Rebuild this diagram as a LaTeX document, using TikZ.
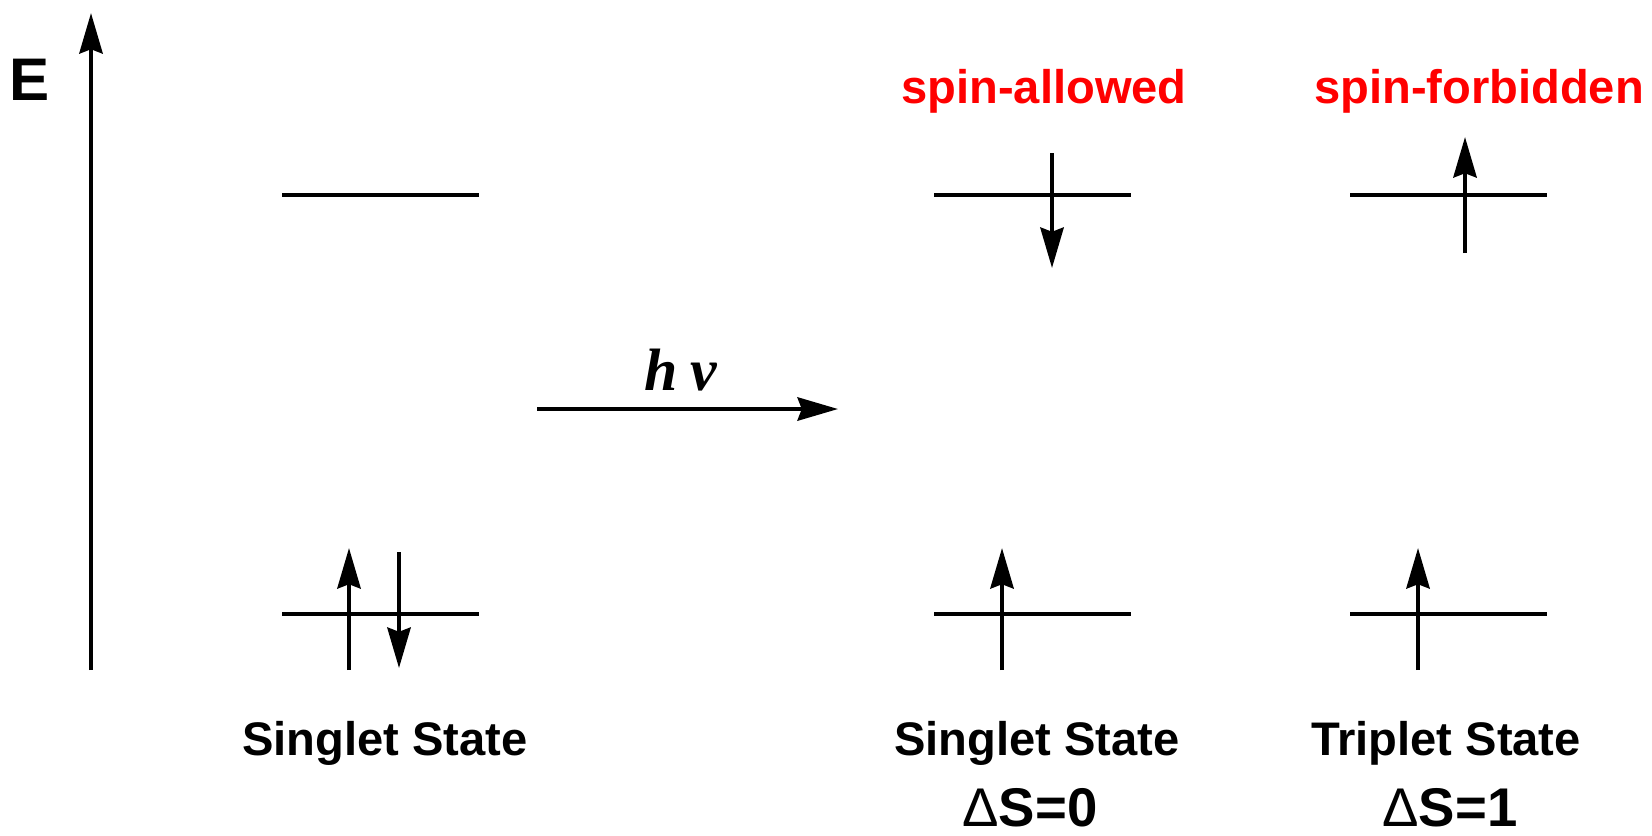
\documentclass[tikz,border=0pt]{standalone}
\usepackage{fontspec}
\setmainfont{Liberation Sans}
\newfontfamily\hvfont{Liberation Serif}
\usetikzlibrary{arrows.meta}
\definecolor{spinc}{RGB}{255,0,0}

\begin{document}
\begin{tikzpicture}[x=0.01cm,y=-0.01cm,>={Stealth[length=11.5pt,width=6.6pt,inset=1.2pt]},
  lvl/.style={line width=1.2pt},
  spin/.style={line width=1.2pt,->},
  lab/.style={font=\fontsize{13.4}{16}\selectfont\bfseries,anchor=base,inner sep=0pt},
  dlab/.style={font=\fontsize{15.5}{18}\selectfont\bfseries,anchor=base,inner sep=0pt,text depth=0pt}]
\useasboundingbox (0,0) rectangle (1652,835);
% energy axis
\coordinate (e0) at (91,670);
\coordinate (e1) at (91,13);
\draw[spin] (e0) -- (e1);
\node[font=\fontsize{17.1}{20}\selectfont\bfseries,anchor=base,inner sep=0pt] (elab) at (30,100) {E};
% orbital levels (upper and lower)
\foreach \x in {282,934,1350} {
  \draw[lvl] (\x,195) -- ++(197,0);
  \draw[lvl] (\x,614) -- ++(197,0);
}
% ground singlet: paired spins
\draw[spin] (349,670) -- (349,548);
\draw[spin] (399,552) -- (399,668);
% excited singlet
\draw[spin] (1002,670) -- (1002,548);
\draw[spin] (1052,153) -- (1052,268);
% triplet
\draw[spin] (1418,670) -- (1418,548);
\draw[spin] (1465,253) -- (1465,137);
% excitation
\coordinate (h0) at (537,409);
\coordinate (h1) at (838,409);
\draw[spin] (h0) -- (h1);
\node[font=\hvfont\fontsize{17}{20}\selectfont\bfseries\itshape,anchor=base,inner sep=0pt] (hv) at (681,390) {h\kern3.5pt ν};
% labels
\node[lab,spinc] (allowed) at (1044,103) {spin-allowed};
\node[lab,spinc] (forbidden) at (1479,103) {spin-forbidden};
\node[lab] (s0) at (385,755) {Singlet State};
\node[lab] (s1) at (1037,755) {Singlet State};
\node[lab] (t1) at (1446,755) {Triplet State};
\node[dlab] (ds0) at (1030,826) {{\mdseries Δ}S=0};
\node[dlab] (ds1) at (1450,826) {{\mdseries Δ}S=1};
\end{tikzpicture}
\end{document}
